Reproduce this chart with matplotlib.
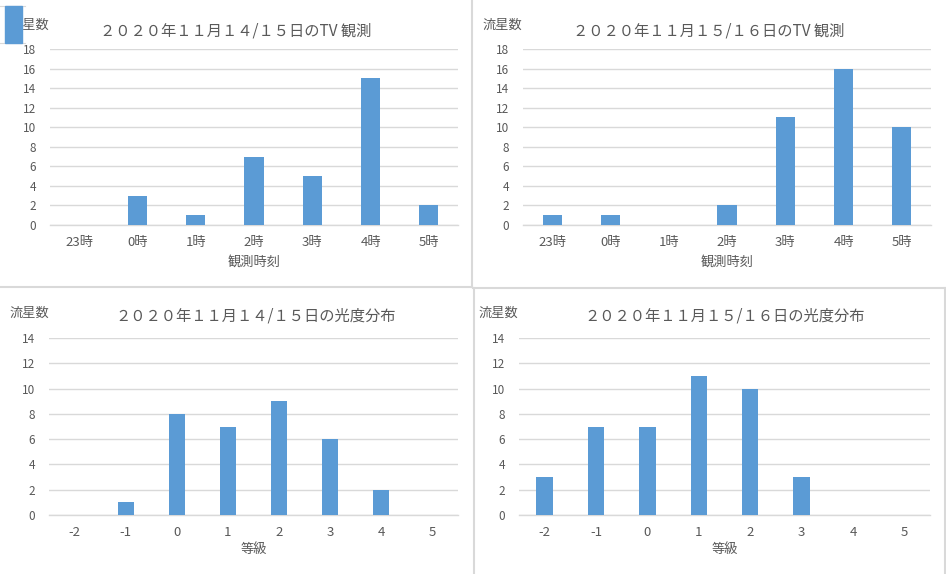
import matplotlib
matplotlib.use("Agg")
import matplotlib.pyplot as plt
from matplotlib.patches import Rectangle
from matplotlib.lines import Line2D

plt.rcParams['font.family'] = ['Noto Sans CJK JP', 'DejaVu Sans']

# ---- data ----
hours = ["23時", "0時", "1時", "2時", "3時", "4時", "5時"]
tv_1415 = [0, 3, 1, 7, 5, 15, 2]
tv_1516 = [1, 1, 0, 2, 11, 16, 10]
mags = ["-2", "-1", "0", "1", "2", "3", "4", "5"]
mag_1415 = [0, 1, 8, 7, 9, 6, 2, 0]
mag_1516 = [3, 7, 7, 11, 10, 3, 0, 0]

titles = ["２０２０年１１月１４/１５日のTV 観測", "２０２０年１１月１５/１６日のTV 観測",
          "２０２０年１１月１４/１５日の光度分布", "２０２０年１１月１５/１６日の光度分布"]
xlabels = ["観測時刻", "観測時刻", "等級", "等級"]
ylabel = "流星数"

W, H = 946, 574
BAR = "#5b9bd5"
GRID = "#d9d9d9"
TXT = "#595959"

fig = plt.figure(figsize=(W / 100, H / 100), dpi=100)
fig.patch.set_facecolor("white")

def px(x0, y0, x1, y1):
    return [x0 / W, 1 - y1 / H, (x1 - x0) / W, (y1 - y0) / H]

panels = [
    dict(rect=px(50, 49, 458, 225), cats=hours, vals=tv_1415, ymax=18,
         title_xy=(236, 31), ylab_xy=(10, 25), xlab_y=262, width=0.33),
    dict(rect=px(523, 49, 931, 225), cats=hours, vals=tv_1516, ymax=18,
         title_xy=(709, 31), ylab_xy=(483, 25), xlab_y=262, width=0.33),
    dict(rect=px(49, 338, 458, 515), cats=mags, vals=mag_1415, ymax=14,
         title_xy=(256, 316), ylab_xy=(10, 313), xlab_y=550, width=0.31),
    dict(rect=px(519, 338, 930, 515), cats=mags, vals=mag_1516, ymax=14,
         title_xy=(725, 316), ylab_xy=(479, 313), xlab_y=550, width=0.32),
]

for i, p in enumerate(panels):
    ax = fig.add_axes(p["rect"])
    x = list(range(len(p["cats"])))
    ax.bar(x, p["vals"], width=p["width"], color=BAR, zorder=3)
    ax.set_xlim(-0.5, len(x) - 0.5)
    ax.set_ylim(0, p["ymax"])
    ax.set_yticks(range(0, p["ymax"] + 1, 2))
    ax.set_xticks(x)
    ax.set_xticklabels(p["cats"])
    ax.tick_params(length=0, colors=TXT)
    ax.tick_params(axis="y", pad=10, labelsize=8.5)
    ax.tick_params(axis="x", pad=8, labelsize=9.5)
    ax.grid(axis="y", color=GRID, linewidth=1, zorder=0)
    for s in ["top", "right", "left"]:
        ax.spines[s].set_visible(False)
    ax.spines["bottom"].set_color(GRID)
    ax.spines["bottom"].set_linewidth(1)
    ax.set_facecolor("white")
    cx = (p["rect"][0] + p["rect"][2] / 2)
    fig.text(cx, 1 - p["xlab_y"] / H, xlabels[i], ha="center", va="center",
             fontsize=9.5, color=TXT)
    tx, ty = p["title_xy"]
    fig.text(tx / W, 1 - ty / H, titles[i], ha="center", va="center",
             fontsize=11, color=TXT)
    lx, ly = p["ylab_xy"]
    fig.text(lx / W, 1 - ly / H, ylabel, ha="left", va="center",
             fontsize=9.5, color=TXT)

# panel borders
def hline(y, x0, x1, lw=1.5):
    fig.add_artist(Line2D([x0 / W, x1 / W], [1 - y / H, 1 - y / H], color=GRID, lw=lw))

def vline(x, y0, y1, lw=1.5):
    fig.add_artist(Line2D([x / W, x / W], [1 - y0 / H, 1 - y1 / H], color=GRID, lw=lw))

hline(286.5, 0, 472)
vline(472, 0, 287)
hline(288, 473, 946)
vline(473.5, 288, 574)
vline(945, 288, 574)

# selection marker over the first y label
hline(6, 0, 25, lw=0.8)
hline(43, 0, 25, lw=0.8)
fig.add_artist(Rectangle((5 / W, 1 - 43 / H), 17 / W, 37 / H,
                         transform=fig.transFigure, color=BAR, zorder=10))

fig.savefig("out.png", dpi=100, facecolor="white")
